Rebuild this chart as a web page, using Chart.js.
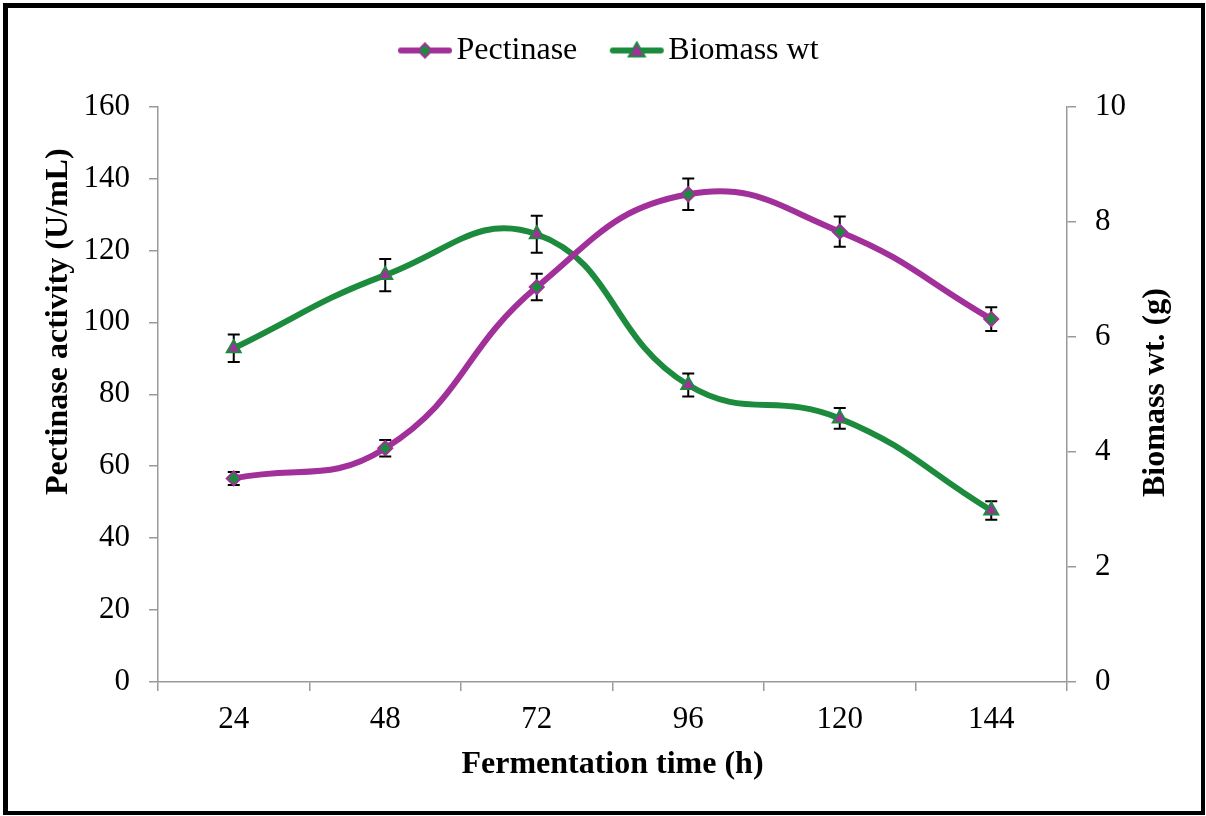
<!DOCTYPE html>
<html>
<head>
<meta charset="utf-8">
<script src="https://cdn.jsdelivr.net/npm/chart.js@4.4.1/dist/chart.umd.min.js"></script>
<style>
  html, body { margin: 0; padding: 0; background: #fff; }
  #wrap { position: relative; width: 1206px; height: 816px; }
  #frame { position: absolute; left: 3px; top: 3px; width: 1202px; height: 812px; box-sizing: border-box;
           border-style: solid; border-color: #000; border-width: 5px 4px 4px 5px; pointer-events: none; }
  canvas { display: block; }
</style>
</head>
<body>
<div id="wrap">
  <canvas id="c" width="1206" height="816"></canvas>
  <div id="frame"></div>
</div>
<script>
// ---- data ----
const categories = ['24', '48', '72', '96', '120', '144'];
const pectinase = [56.6, 65.0, 109.8, 135.6, 125.2, 100.9];
const pectinaseErr = [1.8, 2.3, 3.7, 4.4, 4.2, 3.3];
const biomass = [5.8, 7.07, 7.78, 5.16, 4.58, 2.98];
const biomassErr = [0.24, 0.28, 0.32, 0.2, 0.18, 0.16];
const leftTicks = [0, 20, 40, 60, 80, 100, 120, 140, 160];
const rightTicks = [0, 2, 4, 6, 8, 10];
const xTitle = 'Fermentation time (h)';
const leftTitle = 'Pectinase activity (U/mL)';
const rightTitle = 'Biomass wt. (g)';

const PURPLE = '#A1309A';
const GREEN = '#1D8B3E';
const AXIS = '#9a9a9a';
const FONT = "'Liberation Serif', 'Times New Roman', serif";

function legendIcon(lineColor, fill, shape) {
  const c = document.createElement('canvas');
  c.width = 56; c.height = 20;
  const g = c.getContext('2d');
  g.strokeStyle = lineColor; g.lineWidth = 6; g.lineCap = 'round';
  g.beginPath(); g.moveTo(4, 10); g.lineTo(52, 10); g.stroke();
  g.fillStyle = fill; g.strokeStyle = lineColor; g.lineWidth = 2;
  g.beginPath();
  if (shape === 'diamond') {
    g.moveTo(28, 3); g.lineTo(35, 10); g.lineTo(28, 17); g.lineTo(21, 10); g.closePath();
  } else {
    g.moveTo(28, 2); g.lineTo(36, 16); g.lineTo(20, 16); g.closePath();
  }
  g.fill(); g.stroke();
  return c;
}
const iconP = legendIcon(PURPLE, GREEN, 'diamond');
const iconB = legendIcon(GREEN, PURPLE, 'triangle');

const errorBars = {
  id: 'errorBars',
  beforeDatasetsDraw(chart) {
    const ctx = chart.ctx;
    ctx.save();
    ctx.strokeStyle = '#000';
    ctx.lineWidth = 2;
    chart.data.datasets.forEach((ds, i) => {
      const meta = chart.getDatasetMeta(i);
      const sc = chart.scales[ds.yAxisID];
      ds.errors.forEach((e, j) => {
        const x = meta.data[j].x;
        const y1 = sc.getPixelForValue(ds.data[j] + e);
        const y2 = sc.getPixelForValue(ds.data[j] - e);
        ctx.beginPath();
        ctx.moveTo(x, y1); ctx.lineTo(x, y2);
        ctx.moveTo(x - 6, y1); ctx.lineTo(x + 6, y1);
        ctx.moveTo(x - 6, y2); ctx.lineTo(x + 6, y2);
        ctx.stroke();
      });
    });
    ctx.restore();
  }
};

const yTitles = {
  id: 'yTitles',
  afterDraw(chart) {
    const ctx = chart.ctx;
    ctx.save();
    ctx.fillStyle = '#000';
    ctx.font = 'bold 32px ' + FONT;
    ctx.textBaseline = 'middle';
    ctx.textAlign = 'left';
    ctx.translate(59, 495); ctx.rotate(-Math.PI / 2);
    ctx.fillText(leftTitle, 0, 0);
    ctx.restore();
    ctx.save();
    ctx.fillStyle = '#000';
    ctx.font = 'bold 32px ' + FONT;
    ctx.textBaseline = 'middle';
    ctx.textAlign = 'left';
    ctx.translate(1156, 497); ctx.rotate(-Math.PI / 2);
    ctx.fillText(rightTitle, 0, 0);
    ctx.restore();
  }
};

new Chart(document.getElementById('c'), {
  type: 'line',
  data: {
    labels: categories,
    datasets: [
      {
        label: 'Pectinase', data: pectinase, errors: pectinaseErr, yAxisID: 'y',
        borderColor: PURPLE, borderWidth: 6, tension: 0.45, fill: false,
        pointStyle: 'rectRot', pointRadius: 7, pointBackgroundColor: GREEN,
        pointBorderColor: PURPLE, pointBorderWidth: 2, legendIcon: iconP
      },
      {
        label: 'Biomass wt', data: biomass, errors: biomassErr, yAxisID: 'y1',
        borderColor: GREEN, borderWidth: 6, tension: 0.45, fill: false,
        pointStyle: 'triangle', pointRadius: 8, pointBackgroundColor: PURPLE,
        pointBorderColor: GREEN, pointBorderWidth: 2, legendIcon: iconB
      }
    ]
  },
  options: {
    responsive: false,
    animation: false,
    events: [],
    layout: { padding: { top: -9.5, left: 22, right: 0, bottom: 0 } },
    plugins: {
      tooltip: { enabled: false },
      legend: {
        position: 'top',
        weight: 1000,
        labels: {
          usePointStyle: true,
          pointStyleWidth: 31,
          padding: 44,
          color: '#000',
          font: { family: FONT, size: 32 },
          generateLabels(chart) {
            return chart.data.datasets.map((ds, i) => ({
              text: ds.label, pointStyle: ds.legendIcon, datasetIndex: i,
              fillStyle: ds.borderColor, strokeStyle: ds.borderColor, lineWidth: 0, hidden: false
            }));
          }
        }
      },
      subtitle: {
        display: true,
        position: 'top',
        weight: 500,
        text: ' ',
        font: { size: 10, lineHeight: 1 },
        padding: { top: 20, bottom: 0 }
      }
    },
    scales: {
      x: {
        type: 'category',
        offset: true,
        grid: { display: true, offset: true, drawOnChartArea: false, drawTicks: true, tickLength: 9, color: AXIS, lineWidth: 1.5 },
        border: { display: true, color: AXIS, width: 1.5 },
        ticks: { color: '#000', font: { family: FONT, size: 31 }, padding: 10, maxRotation: 0 },
        title: { display: true, text: xTitle, color: '#000', font: { family: FONT, size: 32, weight: 'bold' }, padding: { top: 0, bottom: 32 } },
        afterFit(s) { s.height = 134; }
      },
      y: {
        position: 'left', min: 0, max: 160,
        afterBuildTicks(s) { s.ticks = leftTicks.map(v => ({ value: v })); },
        grid: { display: true, drawOnChartArea: false, drawTicks: true, tickLength: 9, color: AXIS, lineWidth: 1.5 },
        border: { display: true, color: AXIS, width: 1.5 },
        ticks: { color: '#000', font: { family: FONT, size: 31 }, padding: 19 },
        afterFit(s) { s.width = 136; }
      },
      y1: {
        position: 'right', min: 0, max: 10,
        afterBuildTicks(s) { s.ticks = rightTicks.map(v => ({ value: v })); },
        grid: { display: true, drawOnChartArea: false, drawTicks: true, tickLength: 9, color: AXIS, lineWidth: 1.5 },
        border: { display: true, color: AXIS, width: 1.5 },
        ticks: { color: '#000', font: { family: FONT, size: 31 }, padding: 19 },
        afterFit(s) { s.width = 139; }
      }
    }
  },
  plugins: [errorBars, yTitles]
});
</script>
</body>
</html>
